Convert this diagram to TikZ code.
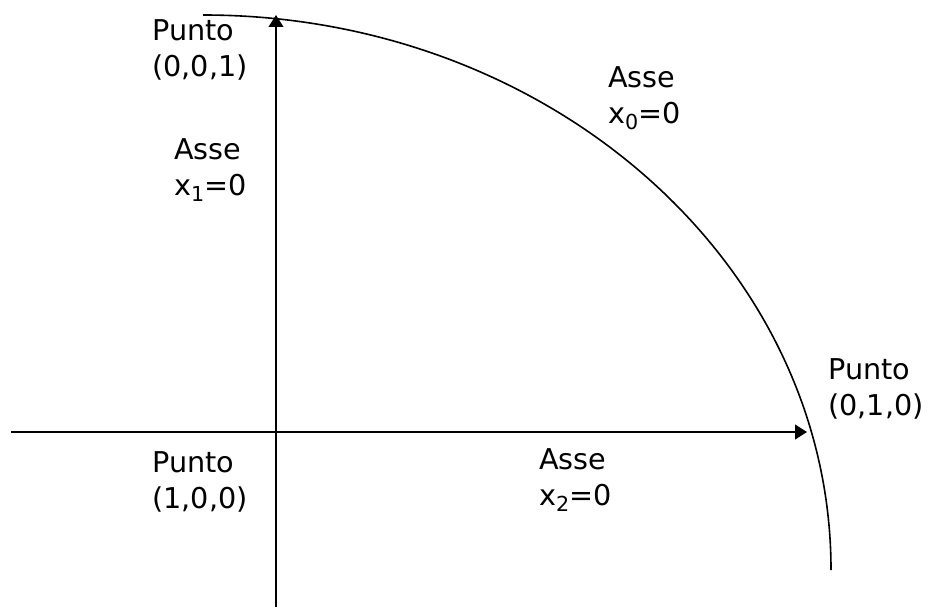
\documentclass[tikz,border=0pt]{standalone}
\usepackage{fontspec}
\setmainfont{DejaVu Sans}
\usetikzlibrary{arrows.meta}
\newcommand{\subdig}[1]{\raisebox{-4.5pt}{\fontsize{15.5pt}{15.5pt}\selectfont #1}}
\begin{document}
\begin{tikzpicture}[x=0.75pt,y=0.75pt,
  lbl/.style={anchor=base west,inner sep=0pt,align=left,font=\fontsize{21.5pt}{27pt}\selectfont},
  axis/.style={line width=1.5pt,-{Triangle[length=9pt,width=11pt]}},
  curve/.style={line width=1.2pt}]
\useasboundingbox (0,0) rectangle (930,615);
\coordinate (hstart) at (11,183);
\coordinate (htip) at (807,183);
\coordinate (vstart) at (276,8);
\coordinate (vtip) at (276,600);
\coordinate (arctop) at (203,600);
\draw[axis] (hstart) -- (htip);
\draw[axis] (vstart) -- (vtip);
\draw[curve] (arctop) arc[start angle=90,end angle=0,x radius=628,y radius=555];
\node[lbl] (p001) at (152,538) {Punto\\(0,0,1)};
\node[lbl] (a1) at (174,420) {Asse\\x\subdig{1}=0};
\node[lbl] (a0) at (608,491) {Asse\\x\subdig{0}=0};
\node[lbl] (p010) at (828,200) {Punto\\(0,1,0)};
\node[lbl] (p100) at (152,107) {Punto\\(1,0,0)};
\node[lbl] (a2) at (539,110) {Asse\\x\subdig{2}=0};
\end{tikzpicture}
\end{document}
